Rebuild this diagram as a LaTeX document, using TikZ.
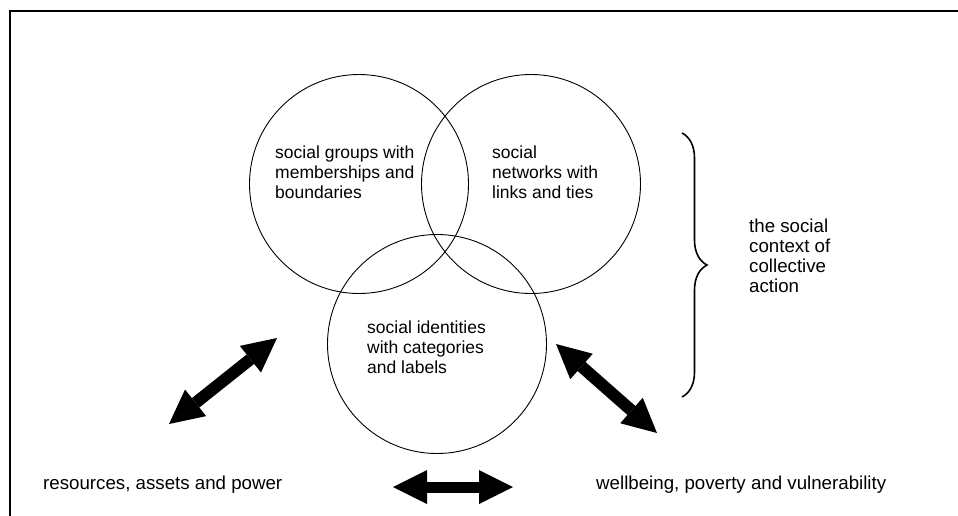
\documentclass[tikz,border=0pt]{standalone}
\usepackage{fontspec}
\setmainfont{Liberation Sans}
\usetikzlibrary{arrows.meta,decorations.pathreplacing}
\tikzset{
  ring/.style={circle,draw,line width=0.9pt,minimum size=219pt,inner sep=0pt},
  label/.style={align=left,anchor=base west,inner sep=0pt,font=\fontsize{17.5}{20}\selectfont},
  biglabel/.style={label,font=\fontsize{18.7}{20}\selectfont},
  dblarrow/.style={line width=12pt,
    {Triangle[length=34pt,width=34pt,line width=0pt]}-{Triangle[length=34pt,width=34pt,line width=0pt]}},
  frameline/.style={line width=2pt}
}
\begin{document}
\begin{tikzpicture}[x=1pt,y=-1pt]
\useasboundingbox (0,0) rectangle (958,515);
% frame
\coordinate (fbl) at (9.5,516);
\coordinate (ftl) at (9.5,11);
\coordinate (ftr) at (959,11);
\draw[frameline] (fbl) -- (ftl) -- (ftr);
% circles
\node[ring] (g) at (359,184) {};
\node[ring] (n) at (531,184) {};
\node[ring] (i) at (437,344) {};
% circle texts (anchor = baseline of last line)
\node[label] (gt) at (275,198) {social groups with\\memberships and\\boundaries};
\node[label] (nt) at (492,198) {social\\networks with\\links and ties};
\node[label] (it) at (367,373) {social identities\\with categories\\and labels};
% brace
\coordinate (bt) at (682,133);
\coordinate (bb) at (682,397);
\draw[line width=1.6pt,decorate,decoration={brace,amplitude=25pt,aspect=0.5}] (bt) -- (bb);
\node[biglabel] (ct) at (749,292) {the social\\context of\\collective\\action};
% bottom texts
\node[biglabel] (res) at (43,489) {resources, assets and power};
\node[biglabel] (wel) at (596,489) {wellbeing, poverty and vulnerability};
% arrows
\coordinate (a1) at (169,424);
\coordinate (a2) at (277,338);
\coordinate (b1) at (556,344);
\coordinate (b2) at (657,433);
\coordinate (c1) at (393,487);
\coordinate (c2) at (513,487);
\draw[dblarrow] (a1) -- (a2);
\draw[dblarrow] (b1) -- (b2);
\draw[dblarrow,line width=11pt] (c1) -- (c2);
\end{tikzpicture}
\end{document}
